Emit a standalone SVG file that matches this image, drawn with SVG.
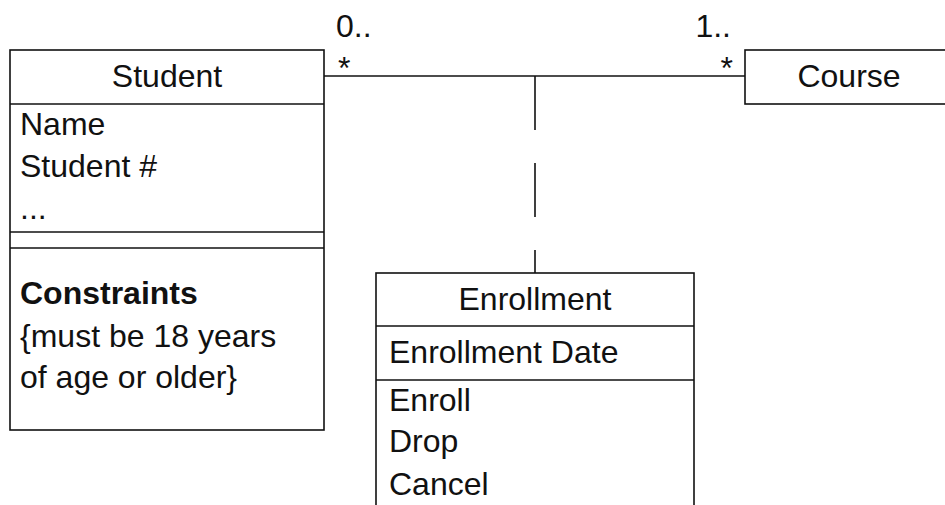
<svg xmlns="http://www.w3.org/2000/svg" width="945" height="505" viewBox="0 0 945 505">
<style>
.box{fill:#fff;stroke:#111;stroke-width:1.6}
.ln{stroke:#111;stroke-width:1.6;fill:none}
text{font-family:"Liberation Sans",Arial,sans-serif;font-size:32px;fill:#111}
.c{text-anchor:middle}
.e{text-anchor:end}
.b{font-weight:bold}
</style>
<rect width="945" height="505" fill="#fff"/>
<g id="connectors">
<line class="ln" x1="324" y1="76" x2="745" y2="76"/>
<line class="ln" x1="535" y1="76" x2="535" y2="273" stroke-dasharray="54 33"/>
<text x="336" y="37">0..</text>
<text x="338" y="79">*</text>
<text class="e" x="731" y="37">1..</text>
<text class="e" x="733" y="79">*</text>
</g>
<g id="student">
<rect class="box" x="10" y="50" width="314" height="380"/>
<line class="ln" x1="10" y1="104" x2="324" y2="104"/>
<line class="ln" x1="10" y1="232" x2="324" y2="232"/>
<line class="ln" x1="10" y1="248" x2="324" y2="248"/>
<text class="c" x="167" y="87">Student</text>
<text x="20" y="135">Name</text>
<text x="20" y="177">Student #</text>
<text x="20" y="219">...</text>
<text class="b" x="20" y="304">Constraints</text>
<text x="20" y="347">{must be 18 years</text>
<text x="20" y="388">of age or older}</text>
</g>
<g id="course">
<rect class="box" x="745" y="50" width="210" height="54"/>
<text class="c" x="849" y="87">Course</text>
</g>
<g id="enrollment">
<rect class="box" x="376" y="273" width="318" height="240"/>
<line class="ln" x1="376" y1="326" x2="694" y2="326"/>
<line class="ln" x1="376" y1="380" x2="694" y2="380"/>
<text class="c" x="535" y="310">Enrollment</text>
<text x="389" y="363">Enrollment Date</text>
<text x="389" y="411">Enroll</text>
<text x="389" y="452">Drop</text>
<text x="389" y="495">Cancel</text>
</g>
</svg>
